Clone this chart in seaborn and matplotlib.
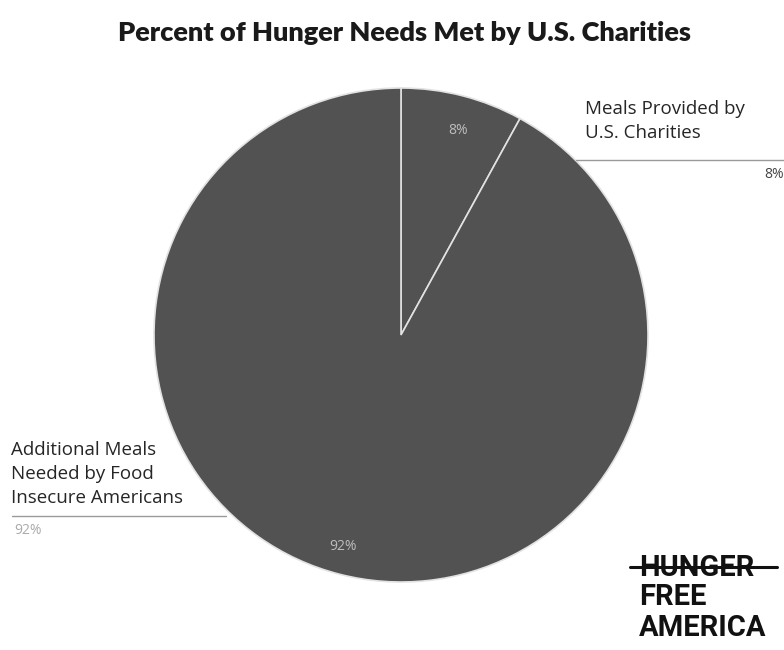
import matplotlib
matplotlib.use("Agg")
import matplotlib.pyplot as plt
from matplotlib.lines import Line2D
import seaborn as sns

# Data
categories = ["Meals Provided by\nU.S. Charities",
              "Additional Meals\nNeeded by Food\nInsecure Americans"]
shares = [8, 92]
pct_labels = ["8%", "92%"]
title = "Percent of Hunger Needs Met by U.S. Charities"
logo_lines = ["HUNGER", "FREE", "AMERICA"]

sns.set_theme(style="white")
plt.rcParams["font.family"] = ["Open Sans", "DejaVu Sans"]

W, H = 784, 650
fig = plt.figure(figsize=(W / 100, H / 100), dpi=100)
fig.patch.set_facecolor("white")


def fx(x):
    return x / W


def fy(y):
    return 1 - y / H


# Pie axes: centre (401, 335), radius 247 px
cx, cy, r = 401, 335, 247
ax = fig.add_axes([fx(cx - r), fy(cy + r), 2 * r / W, 2 * r / H])
pie_color = "#525252"
wedges, texts = ax.pie(
    shares,
    colors=[pie_color, pie_color],
    startangle=90,
    counterclock=False,
    radius=1,
    wedgeprops=dict(edgecolor="#e2e2e2", linewidth=1.2),
)
ax.set_xlim(-1, 1)
ax.set_ylim(-1, 1)
ax.set_aspect("auto")
ax.axis("off")

# Percent labels inside the slices
fig.text(fx(458), fy(130), pct_labels[0], color="#bdbdbd", fontsize=10,
         ha="center", va="center")
fig.text(fx(343), fy(547), pct_labels[1], color="#bdbdbd", fontsize=10,
         ha="center", va="center")

# Title
fig.text(fx(405), fy(33), title, fontsize=19.5, fontweight="heavy",
         family=["Lato", "DejaVu Sans"], color="#1a1a1a",
         ha="center", va="center")

# Outside labels with leader lines
fig.text(fx(585), fy(121), categories[0], fontsize=13.5, color="#262626",
         ha="left", va="center", linespacing=1.45)
fig.add_artist(Line2D([fx(576), fx(784)], [fy(160), fy(160)],
                      color="#9a9a9a", linewidth=1.0))
fig.text(fx(784), fy(175), pct_labels[0], fontsize=10, color="#444444",
         ha="right", va="center")

fig.text(fx(11), fy(474), categories[1], fontsize=13.5, color="#262626",
         ha="left", va="center", linespacing=1.42)
fig.add_artist(Line2D([fx(12), fx(226)], [fy(516), fy(516)],
                      color="#9a9a9a", linewidth=1.0))
fig.text(fx(14), fy(531), pct_labels[1], fontsize=10, color="#aaaaaa",
         ha="left", va="center")

# Logo
logo_font = ["Roboto", "DejaVu Sans"]
ys = [568, 597, 628]
for txt, y in zip(logo_lines, ys):
    fig.text(fx(639), fy(y), txt, fontsize=21, fontweight="bold",
             color="#111111", family=logo_font, ha="left", va="center")
fig.add_artist(Line2D([fx(630), fx(777)], [fy(567), fy(567)],
                      color="#111111", linewidth=2.2))

fig.savefig("out.png", dpi=100, facecolor="white")
